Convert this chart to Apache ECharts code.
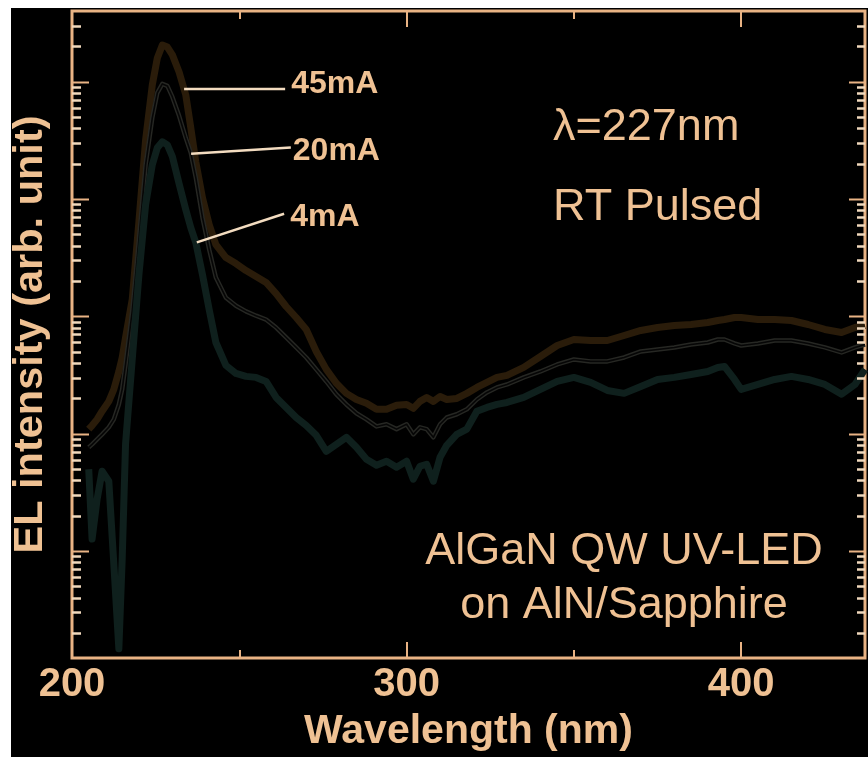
<!DOCTYPE html>
<html>
<head>
<meta charset="utf-8">
<script src="https://cdn.jsdelivr.net/npm/echarts@6/dist/echarts.min.js"></script>
<style>
  html, body { margin: 0; padding: 0; background: #ffffff; }
  #chart { width: 868px; height: 757px; }
</style>
</head>
<body>
<div id="chart"></div>
<script>
// Emission wavelength grid (nm)
const wavelength = [205, 206, 207.5, 209, 211, 212.5, 214, 215, 216, 218,
  220, 222, 224, 225.5, 227, 228.5, 230, 232, 234, 235.5,
  237, 239, 241, 243, 246, 249, 252, 255, 258, 261,
  264, 267, 270, 273, 276, 279, 282, 285, 288, 291,
  294, 297, 300, 302, 304, 306, 308, 310, 312, 315,
  318, 321, 324, 327, 330, 335, 340, 345, 350, 355,
  360, 365, 370, 375, 380, 385, 390, 393, 395, 398,
  400, 405, 410, 415, 420, 425, 430, 434, 437];

// EL intensity (arb. unit) at 45 mA
const el45mA = [10.9, 11.7, 13.2, 15.5, 18.8, 23.8, 33.8, 44.5, 65.9, 139,
  640, 3190, 9370, 15900, 20500, 19700, 16900, 12100, 7710, 4040,
  2070, 1020, 603, 408, 316, 281, 245, 218, 194, 156,
  121, 97.5, 77.1, 50.1, 35.2, 26.8, 22.0, 19.5, 18.1, 16.1,
  16.1, 17.4, 17.7, 16.4, 18.8, 20.3, 18.8, 20.7, 19.5, 19.9,
  22.0, 24.7, 27.3, 30.1, 31.3, 36.6, 45.4, 56.3, 63.3, 62.1,
  62.1, 68.5, 75.6, 80.1, 83.3, 85.0, 88.4, 91.9, 93.7, 97.5,
  97.5, 93.7, 93.7, 91.9, 85.0, 77.1, 72.7, 80.1, 83.3];

// EL intensity (arb. unit) at 20 mA
const el20mA = [7.63, 8.09, 8.93, 9.84, 11.3, 13.2, 17.7, 23.8, 38.8, 110,
  450, 1960, 4910, 8010, 9560, 9190, 7410, 5110, 3320, 2470,
  1520, 692, 370, 214, 144, 123, 110, 101, 93.7, 80.1,
  65.9, 54.2, 44.5, 35.2, 27.8, 21.6, 17.7, 14.9, 13.2, 11.5,
  12.0, 10.9, 12.0, 9.84, 11.3, 10.9, 9.28, 12.0, 13.7, 14.6,
  16.1, 19.5, 22.4, 24.7, 26.2, 30.1, 33.8, 38.8, 42.8, 41.2,
  41.2, 44.5, 50.1, 52.1, 54.2, 57.4, 59.7, 63.3, 63.3, 58.6,
  56.3, 58.6, 62.1, 62.1, 58.6, 54.2, 49.1, 54.2, 57.4];

// EL intensity (arb. unit) at 4 mA
const el4mA = [4.96, 1.26, 2.75, 4.77, 3.92, 0.77, 0.146, 0.85, 8.09, 42.8,
  226, 893, 1960, 2730, 3070, 2890, 2290, 1350, 809, 569,
  424, 226, 114, 59.7, 38.1, 32.5, 30.7, 30.1, 27.8, 20.3,
  16.7, 13.7, 11.7, 9.65, 7.06, 8.09, 9.28, 7.63, 6.03, 5.36,
  5.80, 5.16, 5.80, 4.08, 5.26, 5.47, 3.92, 6.27, 7.94, 9.84,
  10.9, 15.5, 16.7, 17.7, 18.4, 20.3, 23.8, 27.8, 30.1, 27.3,
  23.3, 22.0, 25.2, 28.9, 30.1, 31.9, 33.8, 36.6, 37.3, 28.9,
  23.8, 26.2, 28.9, 30.7, 28.9, 26.2, 21.6, 26.2, 35.2];

// Leader lines from each curve to its current label: [wavelength, intensity]
const leader45mA = [[233.5, 8670], [263.7, 8670]];
const leader20mA = [[235.6, 2430], [265.4, 2740]];
const leader4mA = [[237.3, 426], [263.4, 748]];

// Axis ranges and tick layout
const X_MIN = 200, X_MAX = 437, X_INTERVAL = 100;
const Y_MIN = 0.122, Y_MAX = 40000;
const yDecades = [-1, 0, 1, 2, 3, 4];
const yMultipliers = [1, 2, 3, 4, 5, 6, 7, 8, 9];

const AXIS = '#e9b384';
const MINOR = '#f1d9bd';
const TEXT = '#efc193';
const FONT = '"Liberation Sans", Arial, sans-serif';

const pairs = (ys) => wavelength.map((w, i) => [w, ys[i]]);

const chart = echarts.init(document.getElementById('chart'));

function leaderSeries(name, data, label, offset, distance) {
  return {
    name, type: 'line', data, symbol: 'none', z: 5,
    lineStyle: { color: '#f3dcc0', width: 2.5 },
    endLabel: {
      show: true, formatter: label, color: TEXT, distance, offset,
      fontFamily: FONT, fontWeight: 'bold', fontSize: 32
    }
  };
}

const xAxisCommon = {
  type: 'value', min: X_MIN, max: X_MAX, interval: X_INTERVAL,
  axisLine: { show: false },
  axisTick: { show: true, inside: true, length: 16, lineStyle: { color: AXIS, width: 2 } },
  minorTick: { show: true, splitNumber: 2, length: 8, lineStyle: { color: AXIS, width: 2 } },
  splitLine: { show: false }, minorSplitLine: { show: false }
};

const textGraphics = [
  { type: 'rect', left: 0, top: 0, shape: { width: 868, height: 8 }, style: { fill: '#ffffff' }, z: 100 },
  { type: 'rect', left: 0, top: 0, shape: { width: 11, height: 757 }, style: { fill: '#ffffff' }, z: 100 },
  { type: 'text', x: 553, y: 128, style: { text: 'λ=227nm', fill: TEXT, font: '45px ' + FONT, textVerticalAlign: 'middle' } },
  { type: 'text', x: 553, y: 208, style: { text: 'RT Pulsed', fill: TEXT, font: '45px ' + FONT, textVerticalAlign: 'middle' } },
  { type: 'text', x: 624, y: 552, style: { text: 'AlGaN QW UV-LED', fill: TEXT, font: '45px ' + FONT, textAlign: 'center', textVerticalAlign: 'middle' } },
  { type: 'text', x: 624, y: 606, style: { text: 'on AlN/Sapphire', fill: TEXT, font: '45px ' + FONT, textAlign: 'center', textVerticalAlign: 'middle' } }
];

chart.setOption({
  backgroundColor: '#000000',
  animation: false,
  grid: {
    left: 72, top: 11, right: 2, bottom: 98,
    show: true, borderColor: AXIS, borderWidth: 3, backgroundColor: 'transparent'
  },
  xAxis: [Object.assign({}, xAxisCommon, {
    position: 'bottom',
    axisLabel: {
      formatter: v => (v % 100 === 0 ? String(v) : ''),
      color: TEXT, fontFamily: FONT, fontWeight: 'bold', fontSize: 40, margin: 7
    },
    name: 'Wavelength (nm)', nameLocation: 'middle', nameGap: 53,
    nameTextStyle: { color: TEXT, fontFamily: FONT, fontWeight: 'bold', fontSize: 41 }
  }), Object.assign({}, xAxisCommon, {
    position: 'top',
    axisLabel: { show: false }
  })],
  yAxis: [{
    type: 'log', logBase: 10, min: Y_MIN, max: Y_MAX,
    axisLine: { show: false }, axisTick: { show: false },
    axisLabel: { show: false }, splitLine: { show: false },
    name: 'EL intensity (arb. unit)', nameLocation: 'middle', nameGap: 20,
    nameTextStyle: { color: TEXT, fontFamily: FONT, fontWeight: 'bold', fontSize: 41.5 }
  }],
  series: [
    {
      name: '45mA', type: 'line', data: pairs(el45mA), symbol: 'none', z: 2,
      lineStyle: { color: '#2a1c0a', width: 7, join: 'round' }
    },
    {
      name: '20mA', type: 'line', data: pairs(el20mA), symbol: 'none', z: 3,
      lineStyle: { color: '#262723', width: 4.5, join: 'round' }
    },
    {
      name: '20mA core', type: 'line', data: pairs(el20mA), symbol: 'none', z: 3, silent: true,
      lineStyle: { color: '#060606', width: 1.6, join: 'round' }
    },
    {
      name: '4mA', type: 'line', data: pairs(el4mA), symbol: 'none', z: 4,
      lineStyle: { color: '#0f201d', width: 7, join: 'round' }
    },
    leaderSeries('45mA leader', leader45mA, '45mA', [0, -5], 6),
    leaderSeries('20mA leader', leader20mA, '20mA', [0, 4], 2),
    leaderSeries('4mA leader', leader4mA, '4mA', [0, 3], 6)
  ],
  graphic: textGraphics
});

// Log-axis ticks on both sides: long at each decade, short at 2..9 within it,
// placed through the axis scales.
const xLeft = chart.convertToPixel({ xAxisIndex: 0 }, X_MIN);
const xRight = chart.convertToPixel({ xAxisIndex: 0 }, X_MAX);
const tickGraphics = [];
yDecades.forEach(d => {
  yMultipliers.forEach(m => {
    const v = m * Math.pow(10, d);
    if (v <= Y_MIN || v >= Y_MAX) return;
    const y = Math.round(chart.convertToPixel({ yAxisIndex: 0 }, v)) + 0.5;
    const major = m === 1;
    const lenL = major ? 17 : 9;
    const lenR = major ? 16 : 8;
    const style = { stroke: major ? AXIS : MINOR, lineWidth: major ? 2 : 2.5 };
    tickGraphics.push(
      { type: 'line', silent: true, z: 50, shape: { x1: xLeft, y1: y, x2: xLeft + lenL, y2: y }, style },
      { type: 'line', silent: true, z: 50, shape: { x1: xRight - lenR, y1: y, x2: xRight, y2: y }, style }
    );
  });
});
chart.setOption({ graphic: textGraphics.concat(tickGraphics) });
</script>
</body>
</html>
